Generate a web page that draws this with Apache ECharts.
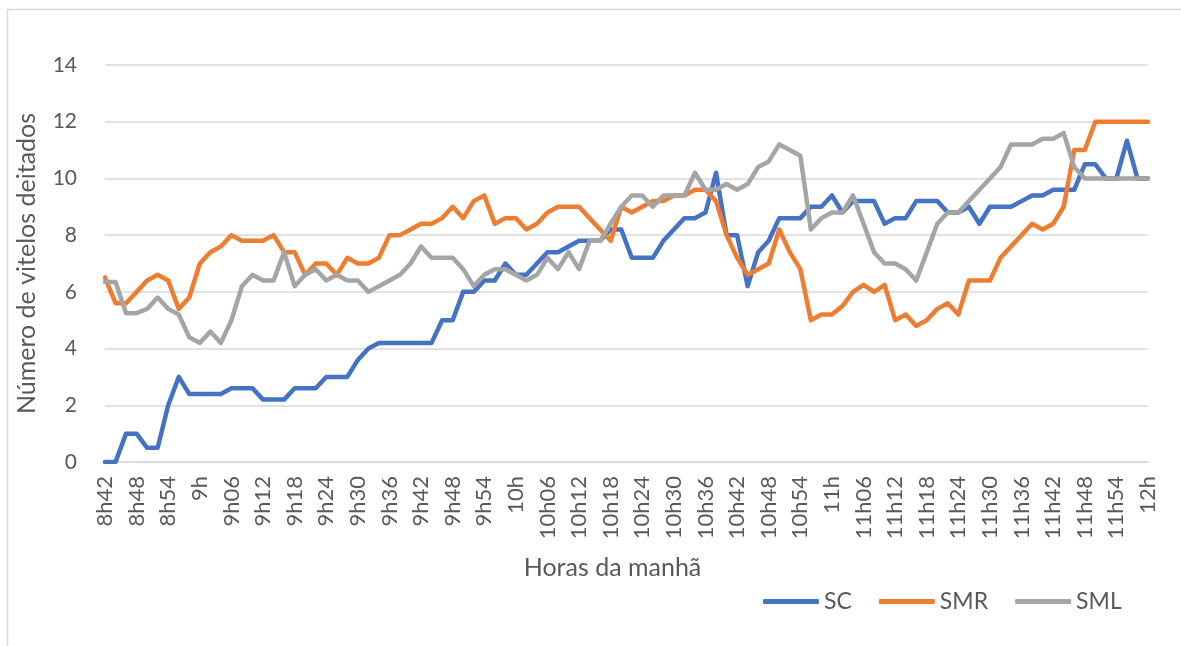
<!DOCTYPE html>
<html>
<head>
<meta charset="utf-8">
<title>Número de vitelos deitados</title>
<script src="https://cdn.jsdelivr.net/npm/echarts@6/dist/echarts.min.js"></script>
<style>
  html, body { margin: 0; padding: 0; background: #fff; }
  #chart { width: 1181px; height: 646px; }
</style>
</head>
<body>
<div id="chart"></div>
<script>
// horas (de 2 em 2 minutos)
var horas = [
  '8h42', '8h44', '8h46', '8h48', '8h50', '8h52', '8h54', '8h56', '8h58',
  '9h', '9h02', '9h04', '9h06', '9h08', '9h10', '9h12', '9h14', '9h16', '9h18', '9h20',
  '9h22', '9h24', '9h26', '9h28', '9h30', '9h32', '9h34', '9h36', '9h38', '9h40',
  '9h42', '9h44', '9h46', '9h48', '9h50', '9h52', '9h54', '9h56', '9h58',
  '10h', '10h02', '10h04', '10h06', '10h08', '10h10', '10h12', '10h14', '10h16', '10h18', '10h20',
  '10h22', '10h24', '10h26', '10h28', '10h30', '10h32', '10h34', '10h36', '10h38', '10h40',
  '10h42', '10h44', '10h46', '10h48', '10h50', '10h52', '10h54', '10h56', '10h58',
  '11h', '11h02', '11h04', '11h06', '11h08', '11h10', '11h12', '11h14', '11h16', '11h18', '11h20',
  '11h22', '11h24', '11h26', '11h28', '11h30', '11h32', '11h34', '11h36', '11h38', '11h40',
  '11h42', '11h44', '11h46', '11h48', '11h50', '11h52', '11h54', '11h56', '11h58',
  '12h'
];

var seriesNames = ['SC', 'SMR', 'SML'];

var sc = [
  0, 0, 1, 1, 0.5, 0.5, 2, 3, 2.4, 2.4,
  2.4, 2.4, 2.6, 2.6, 2.6, 2.2, 2.2, 2.2, 2.6, 2.6,
  2.6, 3.0, 3.0, 3.0, 3.6, 4.0, 4.2, 4.2, 4.2, 4.2,
  4.2, 4.2, 5.0, 5.0, 6.0, 6.0, 6.4, 6.4, 7.0, 6.6,
  6.6, 7.0, 7.4, 7.4, 7.6, 7.8, 7.8, 7.8, 8.2, 8.2,
  7.2, 7.2, 7.2, 7.8, 8.2, 8.6, 8.6, 8.8, 10.2, 8.0,
  8.0, 6.2, 7.4, 7.8, 8.6, 8.6, 8.6, 9.0, 9.0, 9.4,
  8.8, 9.2, 9.2, 9.2, 8.4, 8.6, 8.6, 9.2, 9.2, 9.2,
  8.8, 8.8, 9.0, 8.4, 9.0, 9.0, 9.0, 9.2, 9.4, 9.4,
  9.6, 9.6, 9.6, 10.5, 10.5, 10.0, 10.0, 11.33, 10.0, 10.0
];

var smr = [
  6.5, 5.6, 5.6, 6.0, 6.4, 6.6, 6.4, 5.4, 5.8, 7.0,
  7.4, 7.6, 8.0, 7.8, 7.8, 7.8, 8.0, 7.4, 7.4, 6.6,
  7.0, 7.0, 6.6, 7.2, 7.0, 7.0, 7.2, 8.0, 8.0, 8.2,
  8.4, 8.4, 8.6, 9.0, 8.6, 9.2, 9.4, 8.4, 8.6, 8.6,
  8.2, 8.4, 8.8, 9.0, 9.0, 9.0, 8.6, 8.2, 7.8, 9.0,
  8.8, 9.0, 9.2, 9.2, 9.4, 9.4, 9.6, 9.6, 9.2, 8.0,
  7.2, 6.6, 6.8, 7.0, 8.2, 7.4, 6.8, 5.0, 5.2, 5.2,
  5.5, 6.0, 6.25, 6.0, 6.25, 5.0, 5.2, 4.8, 5.0, 5.4,
  5.6, 5.2, 6.4, 6.4, 6.4, 7.2, 7.6, 8.0, 8.4, 8.2,
  8.4, 9.0, 11.0, 11.0, 12, 12, 12, 12, 12, 12
];

var sml = [
  6.35, 6.35, 5.25, 5.25, 5.4, 5.8, 5.4, 5.2, 4.4, 4.2,
  4.6, 4.2, 5.0, 6.2, 6.6, 6.4, 6.4, 7.4, 6.2, 6.6,
  6.8, 6.4, 6.6, 6.4, 6.4, 6.0, 6.2, 6.4, 6.6, 7.0,
  7.6, 7.2, 7.2, 7.2, 6.8, 6.2, 6.6, 6.8, 6.8, 6.6,
  6.4, 6.6, 7.2, 6.8, 7.4, 6.8, 7.8, 7.8, 8.4, 9.0,
  9.4, 9.4, 9.0, 9.4, 9.4, 9.4, 10.2, 9.6, 9.6, 9.8,
  9.6, 9.8, 10.4, 10.6, 11.2, 11.0, 10.8, 8.2, 8.6, 8.8,
  8.8, 9.4, 8.4, 7.4, 7.0, 7.0, 6.8, 6.4, 7.4, 8.4,
  8.8, 8.8, 9.2, 9.6, 10.0, 10.4, 11.2, 11.2, 11.2, 11.4,
  11.4, 11.6, 10.4, 10.0, 10.0, 10.0, 10.0, 10.0, 10.0, 10.0
];

var yTicks = [0, 2, 4, 6, 8, 10, 12, 14];

(function () {
  var myChart = echarts.init(document.getElementById('chart'));
  var fonte = 'Lato, "Liberation Sans", sans-serif';
  var cinza = '#595959';
  var cores = ['#4472C4', '#ED7D31', '#A5A5A5'];
  var dados = [sc, smr, sml];

  var option = {
    animation: false,
    color: cores,
    textStyle: { fontFamily: fonte, color: cinza },
    // moldura do gráfico
    graphic: [{
      type: 'rect',
      shape: { x: 7.5, y: 9.5, width: 1300, height: 800 },
      style: { fill: 'none', stroke: '#d9d9d9', lineWidth: 1.5 },
      silent: true
    }],
    grid: {
      left: 105,
      right: 33,
      top: 65,
      bottom: 184
    },
    legend: {
      left: 763,
      top: 590,
      padding: 0,
      itemWidth: 56,
      itemHeight: 5,
      itemGap: 27,
      icon: 'roundRect',
      data: seriesNames,
      textStyle: { fontFamily: fonte, fontSize: 23, color: cinza }
    },
    xAxis: {
      type: 'category',
      data: horas,
      boundaryGap: false,
      name: 'Horas da manhã',
      nameLocation: 'middle',
      nameGap: 93,
      nameTextStyle: {
        fontFamily: fonte, fontSize: 25, color: cinza,
        verticalAlign: 'top', padding: [0, 28, 0, 0]
      },
      axisLine: { show: true, lineStyle: { color: '#d9d9d9', width: 1.5 } },
      axisTick: { show: false },
      axisLabel: {
        interval: 2,
        rotate: 90,
        margin: 14,
        fontFamily: fonte,
        fontSize: 22,
        color: cinza
      },
      splitLine: { show: false }
    },
    yAxis: {
      type: 'value',
      min: yTicks[0],
      max: yTicks[yTicks.length - 1],
      interval: yTicks[1] - yTicks[0],
      name: 'Número de vitelos deitados',
      nameLocation: 'middle',
      nameRotate: 90,
      nameGap: 66,
      nameTextStyle: { fontFamily: fonte, fontSize: 25, color: cinza },
      axisLine: { show: false },
      axisTick: { show: false },
      axisLabel: { margin: 28, fontFamily: fonte, fontSize: 21, color: cinza },
      splitLine: { lineStyle: { color: '#d9d9d9', width: 1.5 } }
    },
    series: seriesNames.map(function (nome, i) {
      return {
        name: nome,
        type: 'line',
        data: dados[i],
        symbol: 'none',
        lineStyle: { width: 4.5, color: cores[i], join: 'round', cap: 'round' }
      };
    })
  };

  myChart.setOption(option);
  window.addEventListener('resize', function () {
    myChart.resize();
  });
})();
</script>
</body>
</html>
